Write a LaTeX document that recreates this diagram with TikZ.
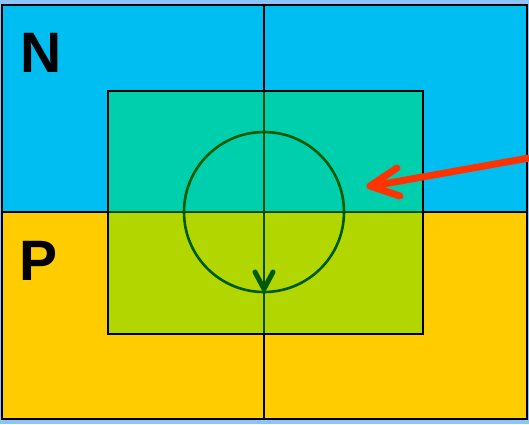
\documentclass[tikz,border=0pt]{standalone}
\usepackage{fontspec}
\setmainfont{Liberation Sans}
\usetikzlibrary{arrows.meta}
\definecolor{bgblue}{HTML}{8CC4FA}
\definecolor{ncyan}{HTML}{00BEF2}
\definecolor{pyellow}{HTML}{FFCC00}
\definecolor{iteal}{HTML}{00CFAD}
\definecolor{ilime}{HTML}{B2D600}
\definecolor{dgreen}{HTML}{005A00}
\definecolor{igreen}{HTML}{0A4A0A}
\definecolor{rarrow}{HTML}{FF3300}
\begin{document}
\begin{tikzpicture}[x=1pt,y=-1pt,
  edge/.style={draw=black,line width=2.6pt},
  iedge/.style={draw=igreen,line width=2.6pt},
  lbl/.style={font=\bfseries\fontsize{57}{57}\selectfont,inner sep=0pt}]
\fill[bgblue] (0,0) rectangle (529,424);
\useasboundingbox (0,0) rectangle (529,424);
\fill[ncyan] (2,5) rectangle (527,212);
\fill[pyellow] (2,212) rectangle (527,419);
\fill[iteal] (108,91) rectangle (423,212);
\fill[ilime] (108,212) rectangle (423,334);
\coordinate (otl) at (2,5);
\coordinate (obr) at (527,419);
\coordinate (itl) at (108,91);
\coordinate (ibr) at (423,334);
\coordinate (mt) at (264,5);
\coordinate (mb) at (264,419);
\coordinate (ml) at (2,212);
\coordinate (mr) at (527,212);
\coordinate (it) at (264,91);
\coordinate (ib) at (264,334);
\coordinate (il) at (108,212);
\coordinate (ir) at (423,212);
\draw[edge] (mt) -- (it) (ib) -- (mb);
\draw[edge] (ml) -- (il) (ir) -- (mr);
\draw[iedge] (it) -- (ib);
\draw[iedge] (il) -- (ir);
\draw[edge] (itl) rectangle (ibr);
\draw[edge] (otl) rectangle (obr);
\node[circle,draw=dgreen,line width=2.6pt,minimum size=160pt,inner sep=0pt] (c) at (264,212) {};
\draw[dgreen,line width=5pt,line cap=round,line join=round] (255,272) -- (264,289) -- (273,272);
\node[lbl,anchor=center] (n) at (41,53) {N};
\node[lbl,anchor=center] (p) at (39,261) {P};
\coordinate (rs) at (529,158);
\coordinate (re) at (372,186);
\draw[rarrow,line width=7pt] (rs) -- (re);
\draw[rarrow,line width=7pt,line cap=round,line join=round] (397,168) -- (370,186) -- (400,196);
\end{tikzpicture}
\end{document}
